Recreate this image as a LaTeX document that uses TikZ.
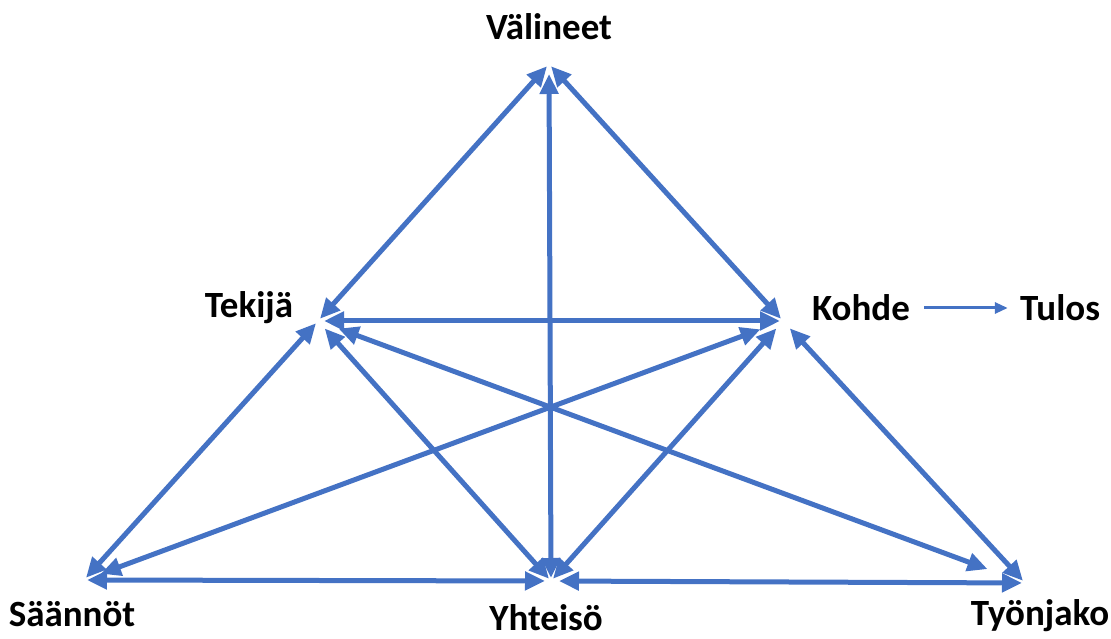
\documentclass[tikz,border=0pt]{standalone}
\usepackage{fontspec}
\setmainfont{Carlito}
\usetikzlibrary{arrows.meta}
\definecolor{lineblue}{HTML}{4472C4}
\tikzset{
  link/.style={draw=lineblue, line width=5pt,
    {Triangle[length=20pt,width=18pt]}-{Triangle[length=20pt,width=18pt]},
    shorten <=#1, shorten >=#1},
  link/.default=3pt,
  label/.style={font=\bfseries\fontsize{37}{44}\selectfont, text=black, inner sep=0pt},
  thin link/.style={draw=lineblue, line width=3pt, -{Triangle[length=13pt,width=11pt]},
    shorten <=14pt, shorten >=12pt}
}
\begin{document}
\begin{tikzpicture}[x=1pt,y=1pt]
\useasboundingbox (0,0) rectangle (1111,639);
\coordinate (V) at (549,575);
\coordinate (T) at (318,318);
\coordinate (K) at (783,318);
\coordinate (S) at (84,59);
\coordinate (Y) at (551,58);
\coordinate (W) at (1025,56);
\node[label] (lV) at (549,612) {Välineet};
\node[label] (lT) at (249,331) {Tekijä};
\node[label] (lK) at (861,331) {Kohde};
\node[label] (lTu) at (1060,331) {Tulos};
\node[label] (lS) at (72,25) {Säännöt};
\node[label] (lY) at (546,21) {Yhteisö};
\node[label] (lW) at (1040,23) {Työnjako};
\draw[link] (V) -- (T);
\draw[link] (V) -- (K);
\draw[link, shorten <=10pt] (V) -- (Y);
\draw[link, shorten <=6pt] (T) -- (K);
\draw[link] (T) -- (S);
\draw[link, shorten <=10pt] (T) -- (Y);
\draw[link, shorten <=22pt, shorten >=40pt] (T) -- (W);
\draw[link, shorten <=24pt, shorten >=18pt] (K) -- (S);
\draw[link, shorten <=10pt] (K) -- (Y);
\draw[link, shorten <=10pt] (K) -- (W);
\draw[link, shorten <=6pt] (Y) -- (S);
\draw[link, shorten <=8pt] (Y) -- (W);
\draw[thin link] (lK.east) -- (lTu.west);
\end{tikzpicture}
\end{document}
